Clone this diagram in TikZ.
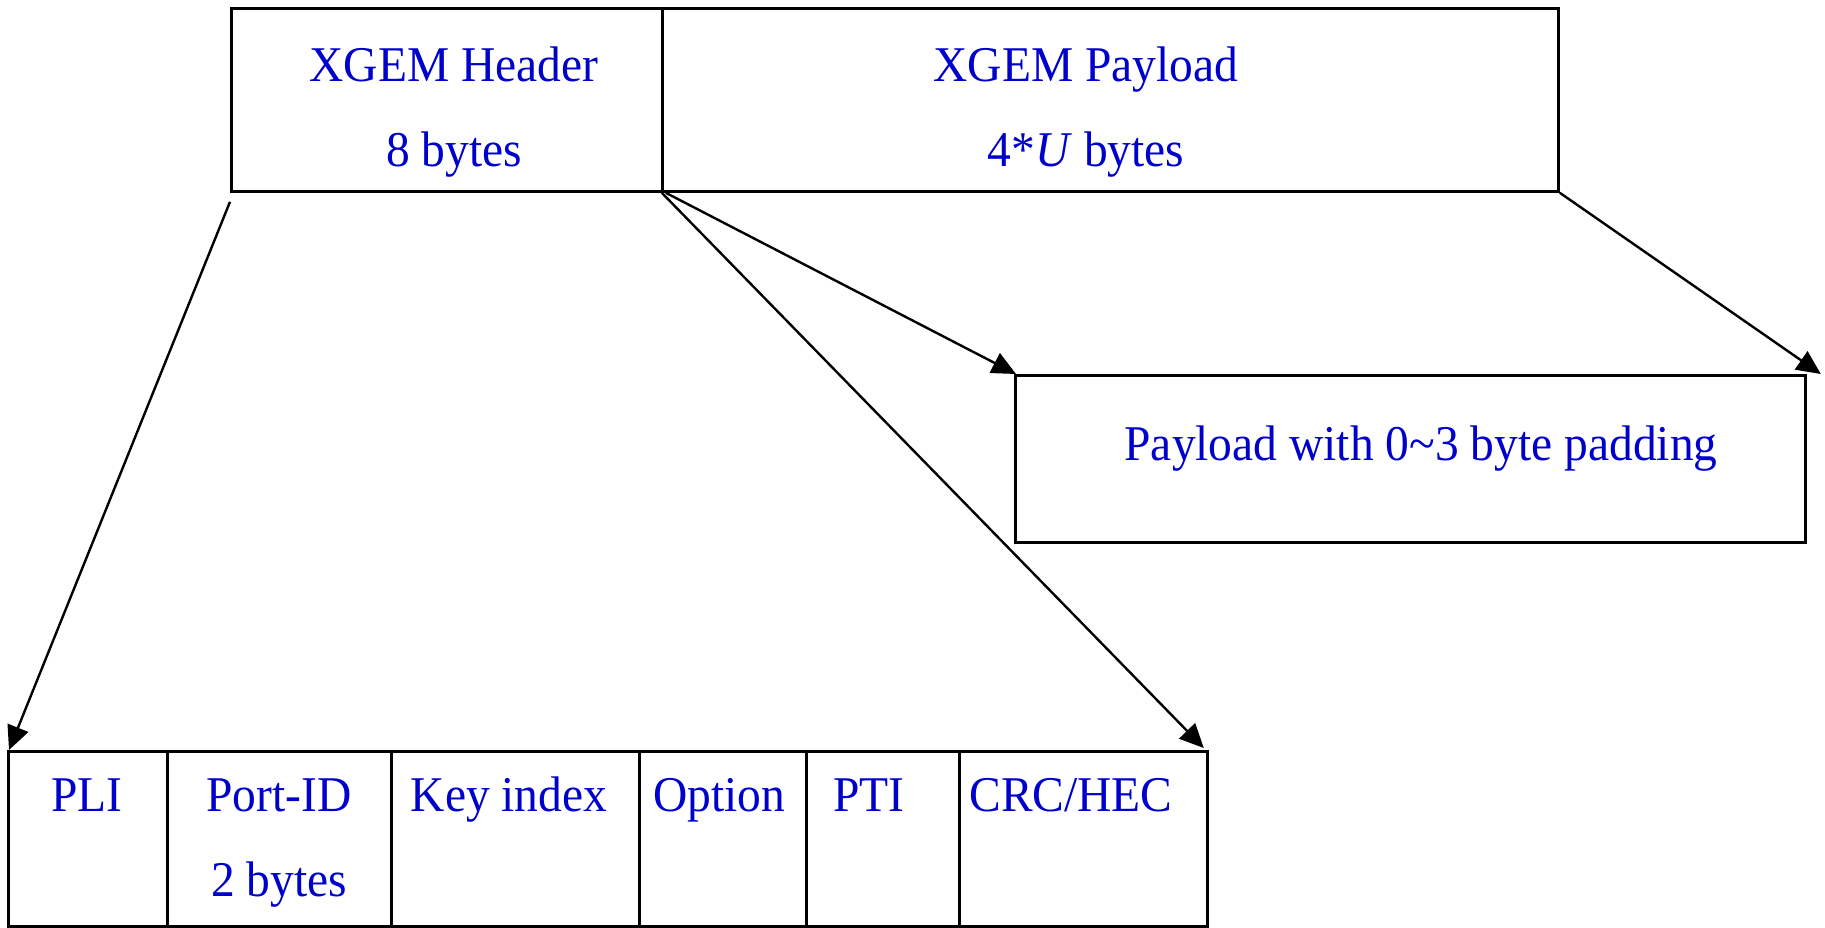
\documentclass[tikz,border=0pt]{standalone}
\usepackage{fontspec}
\setmainfont{Liberation Serif}[FakeStretch=0.95]
\usetikzlibrary{arrows.meta,calc}
\definecolor{lblue}{RGB}{0,0,204}
\begin{document}
\begin{tikzpicture}[x=0.5pt,y=-0.5pt,
  box/.style={draw=black,line width=1.4pt,inner sep=0pt,anchor=north west},
  lbl/.style={text=lblue,font=\fontsize{25}{30}\selectfont,anchor=base,inner sep=0pt},
  arr/.style={draw=black,line width=1.2pt,-{Triangle[length=12pt,width=11pt]}}]
\useasboundingbox (0,0) rectangle (1825,927);
% top boxes
\node[box,minimum width=215.5pt,minimum height=91.5pt] (hdr) at (230,7) {};
\node[box,minimum width=448pt,minimum height=91.5pt] (pay) at (661,7) {};
\node[lbl] (hdrA) at (454,81) {XGEM Header};
\node[lbl] (hdrB) at (454,166) {8 bytes};
\node[lbl] (payA) at (1086,81) {XGEM Payload};
\node[lbl] (payB) at (1086,166) {4*\textit{U} bytes};
% padding box
\node[box,minimum width=395pt,minimum height=83.5pt] (pad) at (1014,374) {};
\node[lbl] (padT) at (1421,460) {Payload with 0\char"007E 3 byte padding};
% bottom row
\node[box,minimum width=79.5pt,minimum height=87.5pt] (f1) at (7,750) {};
\node[box,minimum width=112pt,minimum height=87.5pt] (f2) at (166,750) {};
\node[box,minimum width=124pt,minimum height=87.5pt] (f3) at (390,750) {};
\node[box,minimum width=83.5pt,minimum height=87.5pt] (f4) at (638,750) {};
\node[box,minimum width=76.5pt,minimum height=87.5pt] (f5) at (805,750) {};
\node[box,minimum width=124pt,minimum height=87.5pt] (f6) at (958,750) {};
\node[lbl] (t1) at (87,811) {PLI};
\node[lbl] (t2) at (279,811) {Port-ID};
\node[lbl] (t2b) at (279,896) {2 bytes};
\node[lbl] (t3) at (509,811) {Key index};
\node[lbl] (t4) at (719,811) {Option};
\node[lbl] (t5) at (869,811) {PTI};
\node[lbl] (t6) at (1071,811) {CRC/HEC};
% arrows
\draw[arr] ($(hdr.south west)+(0,9)$) -- ($(f1.north west)+(2,0)$);
\draw[arr] ($(hdr.south east)+(-2,0)$) -- ($(f6.north east)+(-5,-2)$);
\draw[arr] ($(hdr.south east)+(2,0)$) -- ($(pad.north west)+(2,0)$);
\draw[arr] (pay.south east) -- ($(pad.north east)+(14,0)$);
\end{tikzpicture}
\end{document}
